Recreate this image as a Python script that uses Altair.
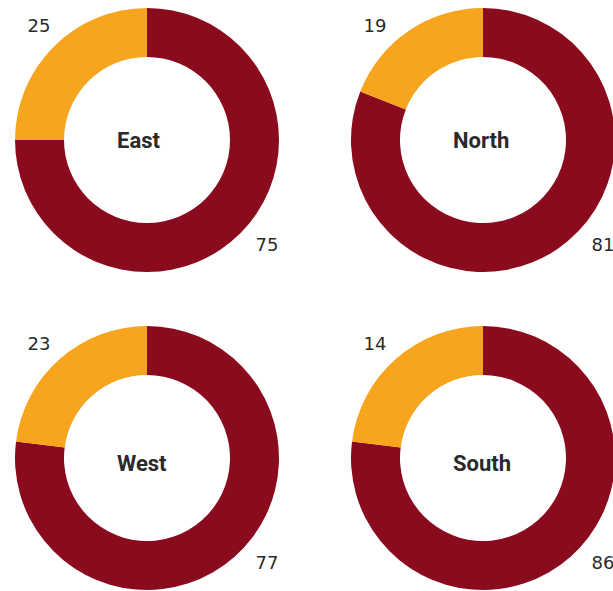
import math
import altair as alt
import pandas as pd

regions = ["East", "North", "West", "South"]
col_idx = [0, 1, 0, 1]
row_idx = [0, 0, 1, 1]
# arc shares as drawn in the reference
main_share = [75, 81, 77, 77]
minor_share = [25, 19, 23, 23]
# values printed beside each donut
main_label = ["75", "81", "77", "86"]
minor_label = ["25", "19", "23", "14"]

RED = "#8a0a1e"
ORANGE = "#f7a51e"
TEXT = "#2a2a2a"

rows = []
for i, r in enumerate(regions):
    rows.append(dict(region=r, col=col_idx[i], row=row_idx[i], segment="main",
                     order=0, share=main_share[i], label=main_label[i]))
    rows.append(dict(region=r, col=col_idx[i], row=row_idx[i], segment="minor",
                     order=1, share=minor_share[i], label=minor_label[i]))
df = pd.DataFrame(rows)

xs = alt.Scale(domain=[0, 1], range=[147, 483])
ys = alt.Scale(domain=[0, 1], range=[140, 458])

base = alt.Chart(df)

arcs = base.transform_stack(
    stack="share", as_=["start", "end"], groupby=["region"],
    sort=[alt.SortField("order", order="ascending")]
).mark_arc(outerRadius=132, innerRadius=83, stroke=None).encode(
    x=alt.X("col:Q", scale=xs, axis=None),
    y=alt.Y("row:Q", scale=ys, axis=None),
    theta=alt.Theta("start:Q", scale=alt.Scale(domain=[0, 100], range=[0, 2 * math.pi])),
    theta2="end:Q",
    color=alt.Color("segment:N", scale=alt.Scale(domain=["main", "minor"], range=[RED, ORANGE]), legend=None),
)

minor_txt = base.transform_filter(alt.datum.segment == "minor").mark_text(
    dx=-108, dy=-113, fontSize=18, font="DejaVu Sans", color=TEXT, baseline="middle", align="center"
).encode(
    x=alt.X("col:Q", scale=xs, axis=None),
    y=alt.Y("row:Q", scale=ys, axis=None),
    text="label:N",
)

main_txt = base.transform_filter(alt.datum.segment == "main").mark_text(
    dx=120, dy=106, fontSize=18, font="DejaVu Sans", color=TEXT, baseline="middle", align="center"
).encode(
    x=alt.X("col:Q", scale=xs, axis=None),
    y=alt.Y("row:Q", scale=ys, axis=None),
    text="label:N",
)

titles = base.transform_filter(alt.datum.segment == "main").mark_text(
    dx=-30, fontSize=22, font="Roboto", fontWeight="bold", color=TEXT, baseline="middle", align="left"
).encode(
    x=alt.X("col:Q", scale=xs, axis=None),
    y=alt.Y("row:Q", scale=alt.Scale(domain=[0, 1], range=[141, 464]), axis=None),
    text="region:N",
)

chart = alt.layer(arcs, minor_txt, main_txt, titles).resolve_scale(
    y="independent"
).properties(
    width=613, height=591, autosize=alt.AutoSizeParams(type="none"), padding=0
).configure_view(stroke=None)

chart.save("out.html", embed_options={"renderer": "svg", "actions": False})
